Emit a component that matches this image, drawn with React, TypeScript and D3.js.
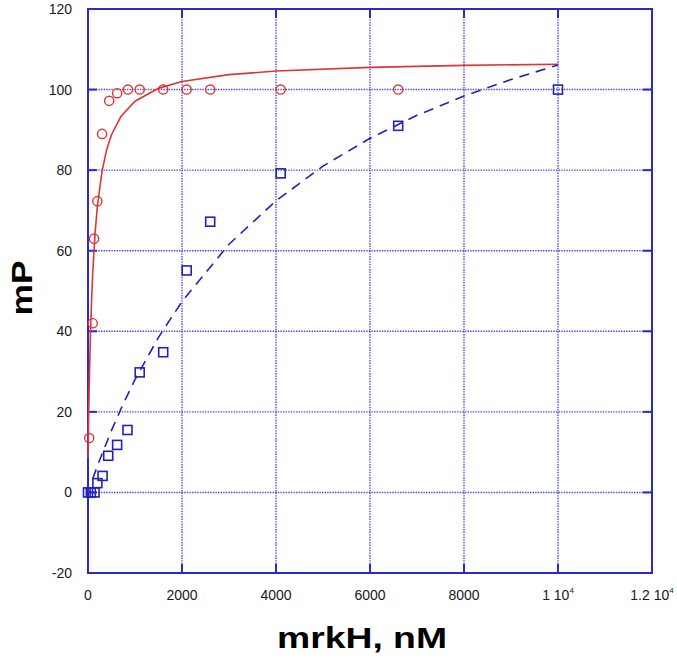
import React, { useEffect, useRef } from 'react';
import * as d3 from 'd3';

// axis ticks
const xTicks = [0, 2000, 4000, 6000, 8000, 10000, 12000];
const xTickLabels = ['0', '2000', '4000', '6000', '8000', '1 10^4', '1.2 10^4'];
const yTicks = [-20, 0, 20, 40, 60, 80, 100, 120];

// red circles (measured)
const redX = [25, 100, 130, 200, 300, 450, 620, 850, 1100, 1600, 2100, 2600, 4100, 6600];
const redY = [13.5, 42, 63, 72.3, 89, 97.2, 99.1, 100, 100, 100, 100, 100, 100, 100];

// blue squares (measured)
const blueX = [0, 60, 140, 200, 310, 430, 620, 840, 1100, 1600, 2100, 2600, 4100, 6600, 10000];
const blueY = [0, 0, 0, 2.3, 4.1, 9.1, 11.8, 15.5, 29.8, 34.8, 55.1, 67.2, 79.2, 91, 100];

// fitted curves
const redFitX = [0, 10, 25, 50, 75, 100, 150, 200, 300, 400, 500, 700, 1000, 1500, 2000, 3000, 4000, 6000, 8000, 10000];
const redFitY = [8.5, 16.3, 26, 38.3, 47.3, 54.3, 64.3, 71.1, 79.8, 85.2, 88.8, 93.3, 97.1, 100.3, 102, 103.7, 104.6, 105.5, 106, 106.3];
const blueFitX = [100, 250, 500, 750, 1000, 1500, 2000, 3000, 4000, 5000, 6000, 7000, 8000, 9000, 10000];
const blueFitY = [3.4, 8.1, 15.4, 22, 28, 38.5, 47.4, 61.6, 72.4, 81, 87.9, 93.6, 98.4, 102.5, 106.1];

const App = () => {
    const svgRef = useRef<SVGSVGElement>(null);

    useEffect(() => {
        document.body.style.margin = '0';
        const left = 88, right = 652, top = 9, bottom = 573;

        const svg = d3.select(svgRef.current);
        svg.selectAll('*').remove();

        const x = d3.scaleLinear().domain([0, 12000]).range([left, right]);
        const y = d3.scaleLinear().domain([-20, 120]).range([bottom, top]);

        const frameColor = '#2a2acc';
        const gridColor = '#4646e0';
        const red = '#e03535';
        const blue = '#2222bb';

        // grid (dotted)
        const grid = svg.append('g')
            .attr('stroke', gridColor)
            .attr('stroke-width', 1.4)
            .attr('stroke-dasharray', '1.4,1.2');
        xTicks.slice(1, -1).forEach(t => {
            grid.append('line').attr('x1', x(t)).attr('x2', x(t)).attr('y1', top).attr('y2', bottom);
        });
        yTicks.slice(1, -1).forEach(t => {
            grid.append('line').attr('x1', left).attr('x2', right).attr('y1', y(t)).attr('y2', y(t));
        });

        // frame + ticks
        const frame = svg.append('g').attr('stroke', frameColor).attr('stroke-width', 2).attr('fill', 'none');
        frame.append('rect').attr('x', left).attr('y', top).attr('width', right - left).attr('height', bottom - top);
        const tl = 9;
        xTicks.slice(1, -1).forEach(t => {
            frame.append('line').attr('x1', x(t)).attr('x2', x(t)).attr('y1', bottom).attr('y2', bottom - tl);
            frame.append('line').attr('x1', x(t)).attr('x2', x(t)).attr('y1', top).attr('y2', top + tl);
        });
        yTicks.slice(1, -1).forEach(t => {
            frame.append('line').attr('x1', left).attr('x2', left + tl).attr('y1', y(t)).attr('y2', y(t));
            frame.append('line').attr('x1', right).attr('x2', right - tl).attr('y1', y(t)).attr('y2', y(t));
        });

        // tick labels
        const labels = svg.append('g')
            .attr('font-family', 'Liberation Sans, Arial, sans-serif')
            .attr('font-size', 14)
            .attr('fill', '#1a1a1a');
        yTicks.forEach(t => {
            labels.append('text')
                .attr('x', 72)
                .attr('y', y(t) + 5)
                .attr('text-anchor', 'end')
                .text(t);
        });
        xTicks.forEach((t, i) => {
            const parts = xTickLabels[i].split('^');
            const txt = labels.append('text')
                .attr('x', x(t))
                .attr('y', 600)
                .attr('text-anchor', 'middle');
            txt.append('tspan').text(parts[0]);
            if (parts[1]) {
                txt.append('tspan').attr('font-size', 8).attr('dy', -7).text(parts[1]);
            }
        });

        // axis titles
        svg.append('text')
            .attr('x', 362)
            .attr('y', 648)
            .attr('text-anchor', 'middle')
            .attr('font-family', 'Liberation Sans, Arial, sans-serif')
            .attr('font-weight', 'bold')
            .attr('font-size', 30)
            .attr('textLength', 170)
            .attr('lengthAdjust', 'spacingAndGlyphs')
            .attr('fill', '#000')
            .text('mrkH, nM');
        svg.append('text')
            .attr('transform', `translate(32, 288) rotate(-90)`)
            .attr('text-anchor', 'middle')
            .attr('font-family', 'Liberation Sans, Arial, sans-serif')
            .attr('font-weight', 'bold')
            .attr('font-size', 30)
            .attr('textLength', 55)
            .attr('lengthAdjust', 'spacingAndGlyphs')
            .attr('fill', '#000')
            .text('mP');

        // fits
        const line = d3.line<[number, number]>()
            .x(d => x(d[0]))
            .y(d => y(d[1]));

        svg.append('path')
            .attr('d', line(redFitX.map((v, i) => [v, redFitY[i]] as [number, number])))
            .attr('fill', 'none')
            .attr('stroke', red)
            .attr('stroke-width', 1.6);

        svg.append('path')
            .attr('d', line(blueFitX.map((v, i) => [v, blueFitY[i]] as [number, number])))
            .attr('fill', 'none')
            .attr('stroke', blue)
            .attr('stroke-width', 1.6)
            .attr('stroke-dasharray', '10,7');

        // markers
        svg.append('g')
            .selectAll('circle')
            .data(redX.map((v, i) => [v, redY[i]]))
            .enter()
            .append('circle')
            .attr('cx', d => x(d[0]))
            .attr('cy', d => y(d[1]))
            .attr('r', 4.6)
            .attr('fill', 'none')
            .attr('stroke', red)
            .attr('stroke-width', 1.4);

        const s = 9;
        svg.append('g')
            .selectAll('rect')
            .data(blueX.map((v, i) => [v, blueY[i]]))
            .enter()
            .append('rect')
            .attr('x', d => x(d[0]) - s / 2)
            .attr('y', d => y(d[1]) - s / 2)
            .attr('width', s)
            .attr('height', s)
            .attr('fill', 'none')
            .attr('stroke', blue)
            .attr('stroke-width', 1.6);
    }, []);

    return (
        <svg ref={svgRef} width={677} height={659} style={{ display: 'block', background: '#fff' }}></svg>
    );
};

export default App;
